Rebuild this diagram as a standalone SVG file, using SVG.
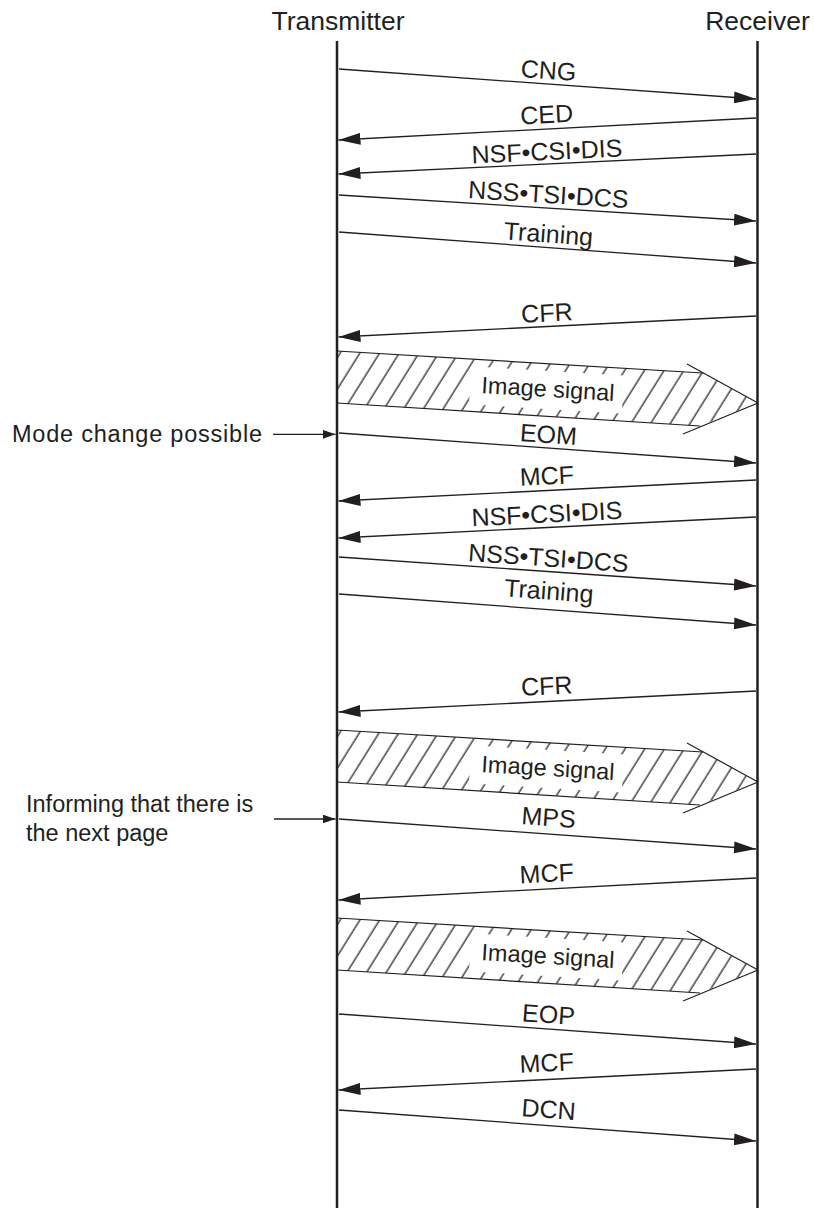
<svg xmlns="http://www.w3.org/2000/svg" width="814" height="1211" viewBox="0 0 814 1211">
  <style>
    .title { font-family: "Liberation Sans", Arial, sans-serif; font-size: 26.5px; fill: #231f20; text-anchor: middle; }
    .lbl { font-family: "Liberation Sans", Arial, sans-serif; font-size: 25px; fill: #231f20; text-anchor: middle; }
    .img { font-family: "Liberation Sans", Arial, sans-serif; font-size: 23.5px; fill: #231f20; text-anchor: middle; }
    .note { font-family: "Liberation Sans", Arial, sans-serif; font-size: 23.5px; fill: #231f20; }
    .life { stroke: #231f20; stroke-width: 2.5; fill: none; }
    .msg { stroke: #231f20; stroke-width: 1.3; fill: none; marker-end: url(#head); }
    .side { stroke: #231f20; stroke-width: 1.3; fill: none; marker-end: url(#headSmall); }
    .edge { stroke: #231f20; stroke-width: 1.2; fill: none; }
  </style>
  <defs>
    <marker id="head" markerUnits="userSpaceOnUse" markerWidth="22" markerHeight="12" refX="22" refY="6" orient="auto">
      <path d="M0,0 L22,6 L0,12 z" fill="#231f20"/>
    </marker>
    <marker id="headSmall" markerUnits="userSpaceOnUse" markerWidth="13" markerHeight="9" refX="13" refY="4.5" orient="auto">
      <path d="M0,0 L13,4.5 L0,9 z" fill="#231f20"/>
    </marker>
    <pattern id="hatch" patternUnits="userSpaceOnUse" width="16.7" height="20" patternTransform="rotate(32)">
      <line x1="8" y1="-1" x2="8" y2="21" stroke="#231f20" stroke-width="1.25"/>
    </pattern>
    <!-- one image-signal band: hatched body, cleared label area, outline, label -->
    <g id="band">
      <polygon points="337,351 703,373 758,403 700,426 337,403" fill="url(#hatch)"/>
      <rect x="-78" y="-19" width="153" height="38" fill="#fff" transform="translate(548,390) rotate(3.44)"/>
      <line class="edge" x1="337" y1="351" x2="703" y2="373"/>
      <line class="edge" x1="337" y1="403" x2="700" y2="426"/>
      <line class="edge" x1="687" y1="364" x2="758" y2="403"/>
      <line class="edge" x1="683" y1="434" x2="758" y2="403"/>
      <text class="img" transform="translate(548,390) rotate(3.44)" y="7">Image signal</text>
    </g>
  </defs>

  <!-- lifelines -->
  <g id="transmitter">
    <text class="title" x="338" y="30">Transmitter</text>
    <line class="life" x1="337" y1="41" x2="337" y2="1208"/>
  </g>
  <g id="receiver">
    <text class="title" x="757.5" y="30">Receiver</text>
    <line class="life" x1="757.5" y1="41" x2="757.5" y2="1208"/>
  </g>

  <!-- messages -->
  <g id="connectors">
    <line class="msg" x1="339" y1="69" x2="756" y2="99"/>
    <line class="msg" x1="756" y1="118" x2="338.5" y2="140"/>
    <line class="msg" x1="756" y1="154" x2="338.5" y2="174"/>
    <line class="msg" x1="339" y1="195" x2="756" y2="221"/>
    <line class="msg" x1="339" y1="232" x2="756" y2="263"/>
    <line class="msg" x1="756" y1="316" x2="338.5" y2="337"/>
    <line class="msg" x1="339" y1="433" x2="756" y2="463"/>
    <line class="msg" x1="756" y1="480" x2="338.5" y2="501"/>
    <line class="msg" x1="756" y1="517" x2="338.5" y2="538"/>
    <line class="msg" x1="339" y1="557" x2="756" y2="586"/>
    <line class="msg" x1="339" y1="594" x2="756" y2="625"/>
    <line class="msg" x1="756" y1="691" x2="338.5" y2="712"/>
    <line class="msg" x1="339" y1="819" x2="756" y2="849"/>
    <line class="msg" x1="756" y1="878" x2="338.5" y2="900"/>
    <line class="msg" x1="339" y1="1014" x2="756" y2="1044"/>
    <line class="msg" x1="756" y1="1069" x2="338.5" y2="1090"/>
    <line class="msg" x1="339" y1="1110" x2="756" y2="1141"/>
    <line class="side" x1="273" y1="434.3" x2="335.5" y2="434.3"/>
    <line class="side" x1="274" y1="819" x2="335.5" y2="819"/>
  </g>

  <!-- message labels -->
  <g id="labels">
    <text class="lbl" transform="translate(547.5,84) rotate(4.10)" y="-5">CNG</text>
    <text class="lbl" transform="translate(547.5,129) rotate(-3.01)" y="-6">CED</text>
    <text class="lbl" transform="translate(547.5,164) rotate(-2.73)" y="-4">NSF•CSI•DIS</text>
    <text class="lbl" transform="translate(547.5,208) rotate(3.55)" y="-5">NSS•TSI•DCS</text>
    <text class="lbl" transform="translate(547.5,247.5) rotate(4.23)" y="-5">Training</text>
    <text class="lbl" transform="translate(547.5,326.5) rotate(-2.87)" y="-5">CFR</text>
    <text class="lbl" transform="translate(547.5,448) rotate(4.10)" y="-5">EOM</text>
    <text class="lbl" transform="translate(547.5,490.5) rotate(-2.87)" y="-6">MCF</text>
    <text class="lbl" transform="translate(547.5,527.5) rotate(-2.87)" y="-5">NSF•CSI•DIS</text>
    <text class="lbl" transform="translate(547.5,571.5) rotate(3.96)" y="-5">NSS•TSI•DCS</text>
    <text class="lbl" transform="translate(547.5,609.5) rotate(4.23)" y="-10">Training</text>
    <text class="lbl" transform="translate(547.5,701.5) rotate(-2.87)" y="-7">CFR</text>
    <text class="lbl" transform="translate(547.5,834) rotate(4.10)" y="-8">MPS</text>
    <text class="lbl" transform="translate(547.5,889) rotate(-3.01)" y="-7">MCF</text>
    <text class="lbl" transform="translate(547.5,1029) rotate(4.10)" y="-6">EOP</text>
    <text class="lbl" transform="translate(547.5,1079.5) rotate(-2.87)" y="-8">MCF</text>
    <text class="lbl" transform="translate(547.5,1125.5) rotate(4.23)" y="-7.5">DCN</text>
  </g>

  <!-- image signal bands -->
  <g id="image-signal-1"><use href="#band"/></g>
  <g id="image-signal-2"><use href="#band" transform="translate(0,379)"/></g>
  <g id="image-signal-3"><use href="#band" transform="translate(0,567)"/></g>

  <!-- side notes -->
  <g id="note-mode-change">
    <text class="note" x="12" y="442" textLength="250" lengthAdjust="spacing">Mode change possible</text>
  </g>
  <g id="note-next-page">
    <text class="note" x="26" y="812">Informing that there is</text>
    <text class="note" x="26" y="841">the next page</text>
  </g>
</svg>
